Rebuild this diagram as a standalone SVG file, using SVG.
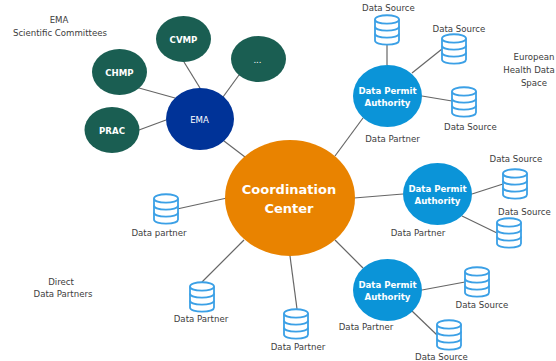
<svg xmlns="http://www.w3.org/2000/svg" width="556" height="361" viewBox="0 0 556 361">
<style>
text{font-family:"DejaVu Sans",Verdana,sans-serif;font-size:8.6px;fill:#3c3c3c;text-anchor:middle}
.n text{fill:#fff}
.b{font-weight:bold}
.g{fill:#1a5e52}
.d{fill:#0b94d8}
.c line{stroke:#666;stroke-width:1.2}
#cyl path{fill:none;stroke:#3ba0e6;stroke-width:1.8}
#cyl path.body{fill:#fff}
</style>
<defs>
<g id="cyl">
<path class="body" d="M0 4.500C0 -1.200 24 -1.200 24 4.500V25.500C24 31 0 31 0 25.500Z"/>
<path d="M0 4.500C0 10 24 10 24 4.500M0 11.500C0 17 24 17 24 11.500M0 18.500C0 24 24 24 24 18.500"/>
</g>
</defs>
<rect width="556" height="361" fill="#fff"/>
<g id="connectors" class="c">
<line x1="184" y1="62" x2="200" y2="88"/>
<line x1="139" y1="88" x2="175" y2="98"/>
<line x1="139" y1="130" x2="166" y2="120"/>
<line x1="239" y1="75" x2="223" y2="97"/>
<line x1="224" y1="141" x2="245" y2="157"/>
<line x1="335" y1="156" x2="363" y2="118"/>
<line x1="354" y1="198" x2="403" y2="194"/>
<line x1="335" y1="240" x2="363" y2="268"/>
<line x1="227" y1="198" x2="177" y2="209"/>
<line x1="244" y1="240" x2="202" y2="282"/>
<line x1="290" y1="256" x2="297" y2="309"/>
<line x1="387" y1="65" x2="387" y2="44"/>
<line x1="412" y1="73" x2="442" y2="49"/>
<line x1="422" y1="96" x2="452" y2="101"/>
<line x1="472" y1="194" x2="503" y2="184"/>
<line x1="462" y1="216" x2="497" y2="233"/>
<line x1="422" y1="290" x2="465" y2="282"/>
<line x1="412" y1="311" x2="437" y2="335"/>
</g>
<g id="ema" class="n"><ellipse cx="200" cy="119" rx="34" ry="31" fill="#003398"/><text x="199.500" y="123">EMA</text></g>
<g id="cvmp" class="n"><ellipse class="g" cx="183.500" cy="39" rx="27.500" ry="23"/><text class="b" x="183.500" y="43">CVMP</text></g>
<g id="chmp" class="n"><ellipse class="g" cx="119.500" cy="72" rx="27.500" ry="23"/><text class="b" x="119.500" y="76">CHMP</text></g>
<g id="prac" class="n"><ellipse class="g" cx="112" cy="130" rx="27.500" ry="23"/><text class="b" x="112" y="134">PRAC</text></g>
<g id="other" class="n"><ellipse class="g" cx="258.500" cy="59" rx="27.500" ry="23"/><text x="257.500" y="63">...</text></g>
<g id="coordination" class="n"><ellipse cx="290" cy="198" rx="65" ry="58" fill="#e98300"/><text class="b" style="font-size:13px" x="289" y="194">Coordination</text><text class="b" style="font-size:13px" x="289" y="213">Center</text></g>
<g id="dpa1" class="n"><ellipse class="d" cx="387.500" cy="96" rx="34.500" ry="31"/><text class="b" x="387.500" y="94">Data Permit</text><text class="b" x="387.500" y="106">Authority</text></g>
<g id="dpa2" class="n"><ellipse class="d" cx="437.500" cy="194" rx="34.500" ry="31"/><text class="b" x="437.500" y="192">Data Permit</text><text class="b" x="437.500" y="204">Authority</text></g>
<g id="dpa3" class="n"><ellipse class="d" cx="387.500" cy="290" rx="34.500" ry="31"/><text class="b" x="387.500" y="288">Data Permit</text><text class="b" x="387.500" y="300">Authority</text></g>
<g id="s1"><use href="#cyl" x="375" y="15"/><text x="388.500" y="11">Data Source</text></g>
<g id="s2"><use href="#cyl" x="442" y="34"/><text x="459" y="32">Data Source</text></g>
<g id="s3"><use href="#cyl" x="452" y="87"/><text x="470.500" y="130">Data Source</text></g>
<g id="s4"><use href="#cyl" x="503" y="169"/><text x="516" y="162">Data Source</text></g>
<g id="s5"><use href="#cyl" x="497" y="218"/><text x="524.500" y="215">Data Source</text></g>
<g id="s6"><use href="#cyl" x="465" y="267"/><text x="482" y="308">Data Source</text></g>
<g id="s7"><use href="#cyl" x="437" y="320"/><text x="441.500" y="360">Data Source</text></g>
<g id="p1"><use href="#cyl" x="154" y="194"/><text x="159" y="236">Data partner</text></g>
<g id="p2"><use href="#cyl" x="190" y="282"/><text x="201" y="322">Data Partner</text></g>
<g id="p3"><use href="#cyl" x="284" y="309"/><text x="298" y="350">Data Partner</text></g>
<g id="labels">
<text x="59" y="23">EMA</text>
<text x="60" y="36">Scientific Committees</text>
<text x="534" y="60">European</text>
<text x="529" y="73">Health Data</text>
<text x="534" y="86">Space</text>
<text x="392.500" y="142">Data Partner</text>
<text x="418" y="236">Data Partner</text>
<text x="366" y="330">Data Partner</text>
<text x="61" y="285">Direct</text>
<text x="63" y="297">Data Partners</text>
</g>
</svg>
